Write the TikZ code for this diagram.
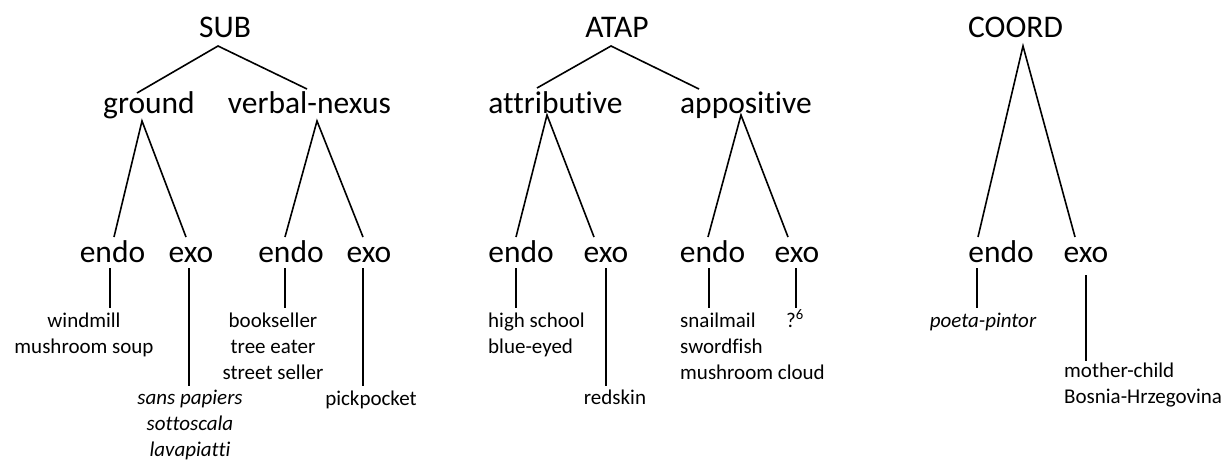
\documentclass[tikz,border=0pt]{standalone}
\usepackage{fontspec}
\setmainfont[Ligatures=NoCommon]{Carlito}
\usetikzlibrary{calc}
\tikzset{
  big/.style={inner sep=0pt, anchor=base, font=\fontsize{31.5}{38}\selectfont},
  small/.style={inner sep=0pt, anchor=base, font=\fontsize{21}{26}\selectfont},
  smallL/.style={small, anchor=base west, align=left},
  smallC/.style={small, align=center},
  edge/.style={line width=1.6pt}
}
\begin{document}
\begin{tikzpicture}[x=1pt,y=-1pt]
\useasboundingbox (0,0) rectangle (1226,459);
% ---------- SUB ----------
\node[big] (SUB) at (225,37) {SUB};
\node[big] (ground) at (149,113) {ground};
\node[big] (vn) at (309.5,113) {verbal-nexus};
\node[big] (endoA) at (112.5,262) {endo};
\node[big] (exoA) at (191,262) {exo};
\node[big] (endoB) at (291,262) {endo};
\node[big] (exoB) at (369,262) {exo};
\node[smallC] (wm) at (84,353) {windmill\\mushroom soup};
\node[smallC] (sans) at (190,456) {\itshape sans papiers\\\itshape sottoscala\\\itshape lavapiatti};
\node[smallC] (book) at (273,379) {bookseller\\tree eater\\street seller};
\node[smallC] (pick) at (371,405) {pickpocket};
\draw[edge] ($(ground.base)+(-12,-20)$) -- ($(SUB.base)+(-7,9)$) -- ($(vn.base)+(-2.5,-24)$);
\draw[edge] ($(endoA.base)+(1.5,-25)$) -- ($(ground.base)+(-7,8)$) -- ($(exoA.base)+(-5,-25)$);
\draw[edge] ($(endoB.base)+(-6,-25)$) -- ($(vn.base)+(7.5,8)$) -- ($(exoB.base)+(-6,-25)$);
\draw[edge] ($(endoA.base)+(-2.5,6)$) -- ($(wm.base)+(26,-45)$);
\draw[edge] ($(exoA.base)+(-2,6)$) -- ($(sans.base)+(-1,-70)$);
\draw[edge] ($(endoB.base)+(-6,6)$) -- ($(book.base)+(12,-71)$);
\draw[edge] ($(exoB.base)+(-6,6)$) -- ($(pick.base)+(-8,-19)$);
% ---------- ATAP ----------
\node[big] (ATAP) at (617,37) {ATAP};
\node[big] (attr) at (555.5,113) {attributive};
\node[big] (appo) at (746,113) {appositive};
\node[big] (endoC) at (521,262) {endo};
\node[big] (exoC) at (606,262) {exo};
\node[big] (endoD) at (712.5,262) {endo};
\node[big] (exoD) at (797,262) {exo};
\node[smallL] (hs) at (488,353) {high school\\blue-eyed};
\node[smallC] (red) at (615,404) {redskin};
\node[smallL] (snail) at (680,379) {snailmail\\swordfish\\mushroom cloud};
\node[smallL] (q) at (786,327) {?\textsuperscript{6}};
\draw[edge] ($(attr.base)+(-18.5,-25)$) -- ($(ATAP.base)+(-6,9)$) -- ($(appo.base)+(-47,-24)$);
\draw[edge] ($(endoC.base)+(-5,-25)$) -- ($(attr.base)+(-8.5,2)$) -- ($(exoC.base)+(-12,-25)$);
\draw[edge] ($(endoD.base)+(-4.5,-25)$) -- ($(appo.base)+(-5,2)$) -- ($(exoD.base)+(-9,-25)$);
\draw[edge] ($(endoC.base)+(-5,6)$) -- ($(hs.base west)+(28,-45)$);
\draw[edge] ($(exoC.base)+(0,6)$) -- ($(red.base)+(-9,-18)$);
\draw[edge] ($(endoD.base)+(-3.5,6)$) -- ($(snail.base west)+(29,-71)$);
\draw[edge] ($(exoD.base)+(-1,6)$) -- ($(q.base west)+(10,-19)$);
% ---------- COORD ----------
\node[big] (COORD) at (1015.5,37) {COORD};
\node[big] (endoE) at (1001,262) {endo};
\node[big] (exoE) at (1086,262) {exo};
\node[smallC] (poeta) at (983,327) {\itshape poeta-pintor};
\node[smallL] (mc) at (1064,403) {mother-child\\Bosnia-Hrzegovina};
\draw[edge] ($(endoE.base)+(-23,-25)$) -- ($(COORD.base)+(7.5,9)$) -- ($(exoE.base)+(-11,-25)$);
\draw[edge] ($(endoE.base)+(-24,6)$) -- ($(poeta.base)+(-6,-19)$);
\draw[edge] ($(exoE.base)+(0,13)$) -- ($(mc.base west)+(22,-42)$);
\end{tikzpicture}
\end{document}
